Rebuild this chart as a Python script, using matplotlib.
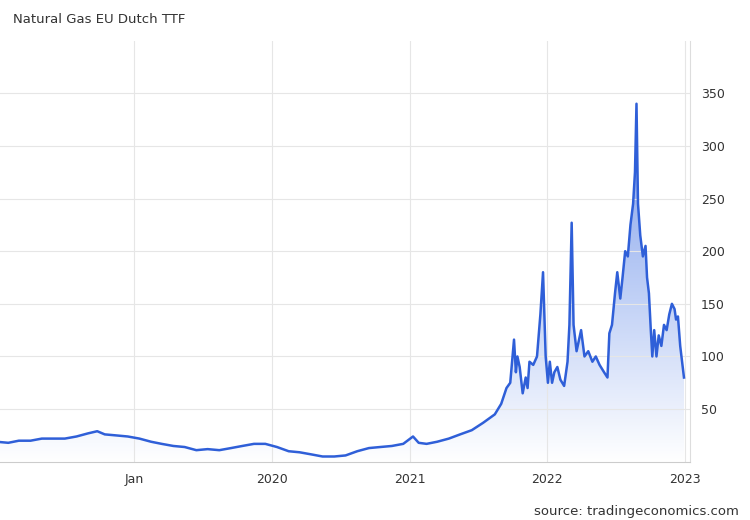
import numpy as np
import pandas as pd
import matplotlib.pyplot as plt
import matplotlib.dates as mdates
from matplotlib.patches import Polygon

# Natural Gas EU Dutch TTF, EUR/MWh
dates = [
    "2018-01-01", "2018-02-01", "2018-03-01", "2018-04-01", "2018-05-01", "2018-06-01",
    "2018-07-01", "2018-08-01", "2018-09-01", "2018-09-25", "2018-10-15", "2018-11-15",
    "2018-12-15", "2019-01-15", "2019-02-15", "2019-03-15", "2019-04-15", "2019-05-15",
    "2019-06-15", "2019-07-15", "2019-08-15", "2019-09-15", "2019-10-15", "2019-11-15",
    "2019-12-15", "2020-01-15", "2020-02-15", "2020-03-15", "2020-04-15", "2020-05-15",
    "2020-06-15", "2020-07-15", "2020-08-15", "2020-09-15", "2020-10-15", "2020-11-15",
    "2020-12-15", "2021-01-10", "2021-01-25", "2021-02-15", "2021-03-15", "2021-04-15",
    "2021-05-15", "2021-06-15", "2021-07-15", "2021-08-15", "2021-09-01", "2021-09-15",
    "2021-09-25", "2021-10-05", "2021-10-10", "2021-10-14", "2021-10-20", "2021-10-28",
    "2021-11-05", "2021-11-10", "2021-11-15", "2021-11-25", "2021-12-05", "2021-12-14",
    "2021-12-21", "2021-12-28", "2022-01-03", "2022-01-08", "2022-01-14", "2022-01-20",
    "2022-01-28", "2022-02-05", "2022-02-15", "2022-02-24", "2022-03-01", "2022-03-07",
    "2022-03-12", "2022-03-20", "2022-03-26", "2022-04-01", "2022-04-10", "2022-04-20",
    "2022-05-01", "2022-05-10", "2022-05-20", "2022-06-01", "2022-06-10", "2022-06-15",
    "2022-06-22", "2022-06-30", "2022-07-06", "2022-07-14", "2022-07-20", "2022-07-27",
    "2022-08-03", "2022-08-10", "2022-08-17", "2022-08-22", "2022-08-26", "2022-08-30",
    "2022-09-05", "2022-09-12", "2022-09-19", "2022-09-23", "2022-09-28", "2022-10-03",
    "2022-10-07", "2022-10-12", "2022-10-18", "2022-10-24", "2022-10-31", "2022-11-07",
    "2022-11-14", "2022-11-21", "2022-11-28", "2022-12-05", "2022-12-09", "2022-12-14",
    "2022-12-20", "2022-12-30",
]
prices = [
    19, 18, 20, 20, 22, 22,
    22, 24, 27, 29, 26, 25,
    24, 22, 19, 17, 15, 14,
    11, 12, 11, 13, 15, 17,
    17, 14, 10, 9, 7, 5,
    5, 6, 10, 13, 14, 15,
    17, 24, 18, 17, 19, 22,
    26, 30, 37, 45, 55, 70,
    75, 116, 85, 100, 90, 65,
    80, 70, 95, 92, 100, 140,
    180, 100, 75, 95, 75, 85,
    90, 78, 72, 95, 130, 227,
    130, 105, 115, 125, 100, 105,
    95, 100, 92, 85, 80, 122,
    130, 160, 180, 155, 175, 200,
    195, 225, 245, 275, 340, 245,
    215, 195, 205, 175, 160, 125,
    100, 125, 100, 120, 110, 130,
    125, 140, 150, 145, 135, 138,
    110, 80,
]

dates = pd.to_datetime(dates)
x = mdates.date2num(dates)
y = np.array(prices)

fig = plt.figure(figsize=(7.5, 5.2), dpi=100)
ax = fig.add_axes([0.0, 0.112, 0.92, 0.81])

xmin = mdates.date2num(pd.Timestamp("2018-01-10"))
xmax = mdates.date2num(pd.Timestamp("2023-01-15"))
ax.set_xlim(xmin, xmax)
ax.set_ylim(0, 400)

# gradient fill under the line
grad = np.linspace(0, 1, 256).reshape(-1, 1)
cmap = plt.matplotlib.colors.LinearSegmentedColormap.from_list(
    "g", ["#ffffff", "#b9cbf5", "#7a98e8"])
im = ax.imshow(grad, extent=[xmin, xmax, 0, 350], origin="lower",
               aspect="auto", cmap=cmap, zorder=1)
poly = Polygon(np.column_stack([np.r_[x[0], x, x[-1]], np.r_[0, y, 0]]),
               closed=True, transform=ax.transData, facecolor="none", edgecolor="none")
ax.add_patch(poly)
im.set_clip_path(poly)

ax.plot(x, y, color="#2f5fd8", lw=1.8, zorder=3)

ax.yaxis.tick_right()
ax.set_yticks([50, 100, 150, 200, 250, 300, 350])
ticks = pd.to_datetime(["2019-01-01", "2020-01-01", "2021-01-01", "2022-01-01", "2023-01-01"])
ax.set_xticks(mdates.date2num(ticks))
ax.set_xticklabels(["Jan", "2020", "2021", "2022", "2023"])
ax.tick_params(length=0, labelsize=9, colors="#333333", pad=8)
ax.grid(True, color="#e6e6e6", lw=0.8, zorder=0)
for s in ["top", "left"]:
    ax.spines[s].set_visible(False)
ax.spines["bottom"].set_color("#cccccc")
ax.spines["right"].set_color("#dddddd")

fig.text(0.018, 0.955, "Natural Gas EU Dutch TTF", fontsize=9.5, color="#333333")
fig.text(0.985, 0.01, "source: tradingeconomics.com", fontsize=9.5, color="#333333", ha="right")

fig.savefig("out.png", dpi=100)
